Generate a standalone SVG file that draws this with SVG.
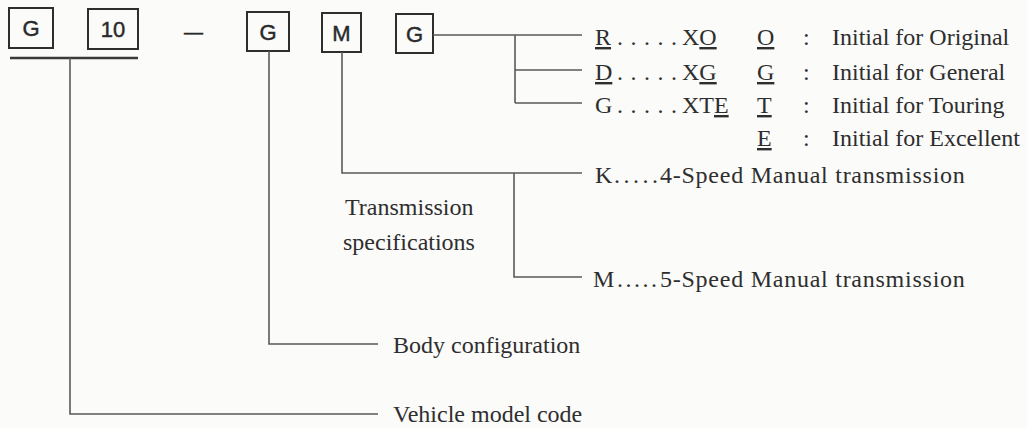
<svg xmlns="http://www.w3.org/2000/svg" width="1027" height="428" viewBox="0 0 1027 428">
<style>
.bg{fill:#fbfbfa}
.box{fill:none;stroke:#2e2e2e;stroke-width:2}
.code{font-family:"Liberation Sans",Arial,sans-serif;font-size:22px;fill:#2a2a2a;stroke:#2a2a2a;stroke-width:0.45;text-anchor:middle}
.t{font-family:"Liberation Serif","Times New Roman",serif;font-size:24px;fill:#2e2e2e}
.u{text-decoration:underline}
.conn path{fill:none;stroke:#5a5a5a;stroke-width:1.6}
.conn .bar{stroke:#3a3a3a;stroke-width:2.4}
</style>
<rect class="bg" x="0" y="0" width="1027" height="428"/>

<g id="code-G1"><rect class="box" x="9" y="8" width="44" height="40"/><text class="code" x="31" y="36">G</text></g>
<g id="code-10"><rect class="box" x="88" y="9" width="50" height="40"/><text class="code" x="113" y="37">10</text></g>
<g id="code-dash"><text class="code" x="193.5" y="38" style="font-size:19px">—</text></g>
<g id="code-G2"><rect class="box" x="247" y="12" width="42" height="39"/><text class="code" x="268" y="39.5">G</text></g>
<g id="code-M"><rect class="box" x="322" y="13" width="39" height="39"/><text class="code" x="341.5" y="40.5">M</text></g>
<g id="code-G3"><rect class="box" x="396" y="14" width="37" height="39"/><text class="code" x="414.5" y="41.5">G</text></g>

<g class="conn" id="connectors">
<path class="bar" d="M10,58 H138"/>
<path d="M433,35 H582 M515,35 V103 M515,70 H582 M515,103 H582"/>
<path d="M342,52 V173 H582 M514,173 V277 H582"/>
<path d="M269,51 V344 H378"/>
<path d="M70,58 V414 H378"/>
</g>

<g id="grade-R"><text class="t" x="595" y="45"><tspan class="u">R</tspan><tspan x="617 630.5 644 657.5 671">.....</tspan><tspan x="682">X</tspan><tspan class="u">O</tspan></text></g>
<g id="grade-D"><text class="t" x="595" y="80"><tspan class="u">D</tspan><tspan x="617 630.5 644 657.5 671">.....</tspan><tspan x="682">X</tspan><tspan class="u">G</tspan></text></g>
<g id="grade-G"><text class="t" x="595" y="113">G<tspan x="617 630.5 644 657.5 671">.....</tspan><tspan x="682">XT</tspan><tspan class="u">E</tspan></text></g>

<g id="legend-O"><text class="t" x="757" y="45"><tspan class="u">O</tspan><tspan x="803">:</tspan><tspan x="832">Initial for Original</tspan></text></g>
<g id="legend-G"><text class="t" x="757" y="80"><tspan class="u">G</tspan><tspan x="803">:</tspan><tspan x="832">Initial for General</tspan></text></g>
<g id="legend-T"><text class="t" x="757" y="113"><tspan class="u">T</tspan><tspan x="803">:</tspan><tspan x="832">Initial for Touring</tspan></text></g>
<g id="legend-E"><text class="t" x="757" y="146"><tspan class="u">E</tspan><tspan x="803">:</tspan><tspan x="832">Initial for Excellent</tspan></text></g>

<g id="trans-K"><text class="t" x="595" y="183">K<tspan x="614 623.5 633 642.5 652">.....</tspan><tspan x="660" letter-spacing="0.75">4-Speed Manual transmission</tspan></text></g>
<g id="trans-label"><text class="t" x="345" y="215">Transmission</text><text class="t" x="343" y="250">specifications</text></g>
<g id="trans-M"><text class="t" x="593" y="287">M<tspan x="617 625.5 634 642.5 651">.....</tspan><tspan x="660" letter-spacing="0.75">5-Speed Manual transmission</tspan></text></g>

<g id="body-config"><text class="t" x="393" y="353">Body configuration</text></g>
<g id="vehicle-code"><text class="t" x="393" y="422">Vehicle model code</text></g>
</svg>
